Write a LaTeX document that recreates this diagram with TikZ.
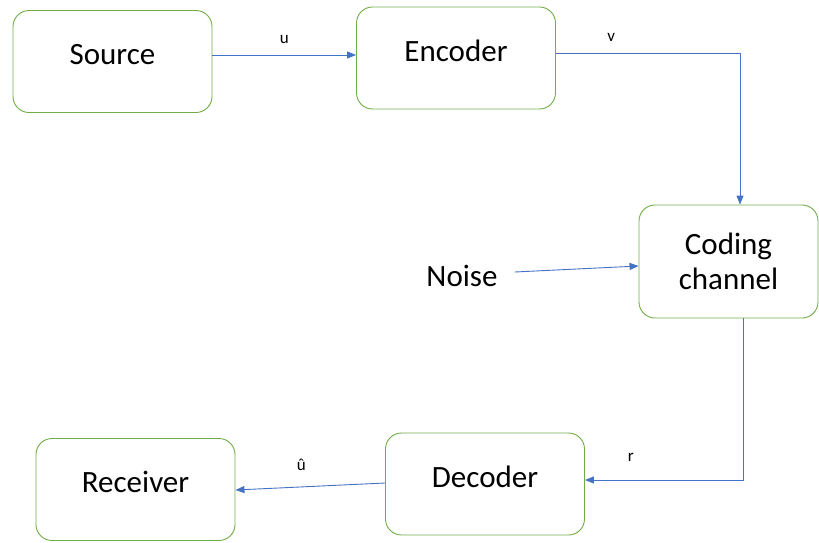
\documentclass[tikz,border=0pt]{standalone}
\usepackage{fontspec}
\setmainfont{Carlito}
\usetikzlibrary{arrows.meta}
\definecolor{boxgreen}{RGB}{112,173,71}
\definecolor{arrowblue}{RGB}{68,114,196}
\newcommand\boxfont{\fontsize{31}{35}\selectfont}
\newcommand\sigfont{\fontsize{17}{20}\selectfont}

\begin{document}
\begin{tikzpicture}[x=1pt,y=-1pt,>={Triangle[length=9pt,width=7pt]},
  block/.style={draw=boxgreen,line width=0.9pt,rounded corners=16pt,inner sep=0pt,
    minimum width=199pt,text height=54pt,text depth=48pt,font=\boxfont},
  chan node/.style={draw=boxgreen,line width=0.9pt,rounded corners=16pt,inner sep=0pt,
    minimum width=179pt,minimum height=113pt,align=center,font=\boxfont},
  link/.style={->,draw=arrowblue,line width=0.9pt},
  sig/.style={font=\sigfont,inner sep=2pt}]

  \useasboundingbox (0,0) rectangle (819,542);

  \node[block]     (src)   at (112.5,61.5) {Source};
  \node[block]     (enc)   at (456,58)     {Encoder};
  \node[chan node] (chan)  at (728.5,261.5) {Coding\\channel};
  \node[font=\boxfont,inner sep=0pt] (noise) at (462,276) {Noise};
  \node[block]     (dec)   at (485,484)    {Decoder};
  \node[block]     (rec)   at (135.5,489.5) {Receiver};

  \draw[link] ([yshift=6.5pt]src.east) -- node[sig,above=9pt] {u} ([yshift=3pt]enc.west);
  \draw[link] ([yshift=5pt]enc.east) -| node[sig,above=9pt,pos=0.15] {v} ([xshift=11.5pt]chan.north);
  \draw[link] ([xshift=17pt,yshift=4pt]noise.east) -- ([yshift=-4.5pt]chan.west);
  \draw[link] ([xshift=14.5pt]chan.south) |- node[sig,above=16pt,pos=0.855] {r} ([yshift=4pt]dec.east);
  \draw[link] ([yshift=1pt]dec.west) -- node[sig,above=13.5pt,pos=0.56] {û} ([yshift=-0.5pt]rec.east);

\end{tikzpicture}
\end{document}
